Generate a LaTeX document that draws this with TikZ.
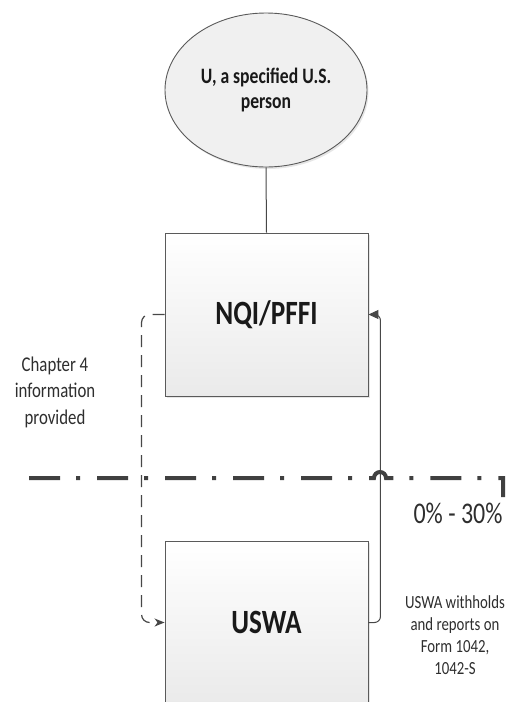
\documentclass[tikz,border=0pt]{standalone}
\usepackage{fontspec}
\setmainfont{Carlito}[FakeStretch=0.8]
\usetikzlibrary{shapes.geometric,shadows,arrows.meta}

\definecolor{linegray}{HTML}{474747}
\definecolor{edgegray}{HTML}{5A5A5A}
\definecolor{textgray}{HTML}{2E2E2E}
\definecolor{boxbottom}{HTML}{EAEAEA}
\definecolor{ovalfill}{HTML}{F0F0F0}
\definecolor{barriergray}{HTML}{404040}

\begin{document}
\begin{tikzpicture}[x=1pt,y=-1pt,
  party/.style={draw=edgegray, line width=0.9pt, rectangle,
    top color=white, bottom color=boxbottom,
    minimum width=203pt, minimum height=163pt, inner sep=0pt,
    drop shadow={opacity=0.2, shadow xshift=2pt, shadow yshift=-2pt},
    font=\bfseries\fontsize{34}{40}\selectfont, text=black!90},
  person/.style={draw=edgegray, line width=0.9pt, ellipse, fill=ovalfill,
    minimum width=202pt, minimum height=154pt, inner sep=0pt,
    drop shadow={opacity=0.2, shadow xshift=1.5pt, shadow yshift=-2pt},
    align=center, font=\bfseries\fontsize{22}{25}\selectfont, text=black!90},
  note/.style={align=center, text=textgray},
  link/.style={draw=linegray, line width=1pt},
  infoflow/.style={link, line width=1.2pt, dash pattern=on 12pt off 8pt,
    rounded corners=8pt, -{Stealth[length=10pt, width=8pt, inset=3pt]}},
  payflow/.style={link, rounded corners=6pt,
    -{Triangle[length=10pt, width=9pt]}},
  boundary/.style={draw=barriergray, line width=4pt,
    dash pattern=on 31pt off 16pt on 4pt off 17pt}
]
\clip (0,0) rectangle (510,702);

% parties
\node[person] (u) at (266,90) {U, a specified U.S.\\person};
\node[party] (nqi) at (266.5,314.5) {NQI/PFFI};
\node[party] (uswa) at (266.5,622.5) {USWA};

% connectors
\draw[link] (u.south) -- (nqi.north);
\draw[infoflow] (nqi.west) -- ++(-23,0) |- (uswa.west);
\draw[payflow] (uswa.east) -- ++(12,0) |- (nqi.east);

% withholding boundary with a hop over the payment line
\coordinate (bstart) at (29,478);
\coordinate (hopstart) at (374,478);
\coordinate (bcorner) at (503,478);
\coordinate (bend) at (503,497);
\draw[boundary] (bstart) -- (hopstart)
  arc[start angle=180, end angle=0, radius=6pt] -- (bcorner) -- (bend);

% labels
\node[note, font=\fontsize{21}{26.5}\selectfont] (chapter) at (55,392)
  {Chapter 4\\information\\provided};
\node[note, font=\fontsize{30}{34}\selectfont] (rate) at (458,513) {0\% - 30\%};
\node[note, font=\fontsize{18.5}{22}\selectfont] (uswanote) at (455,635)
  {USWA withholds\\and reports on\\Form 1042,\\1042-S};
\end{tikzpicture}
\end{document}
